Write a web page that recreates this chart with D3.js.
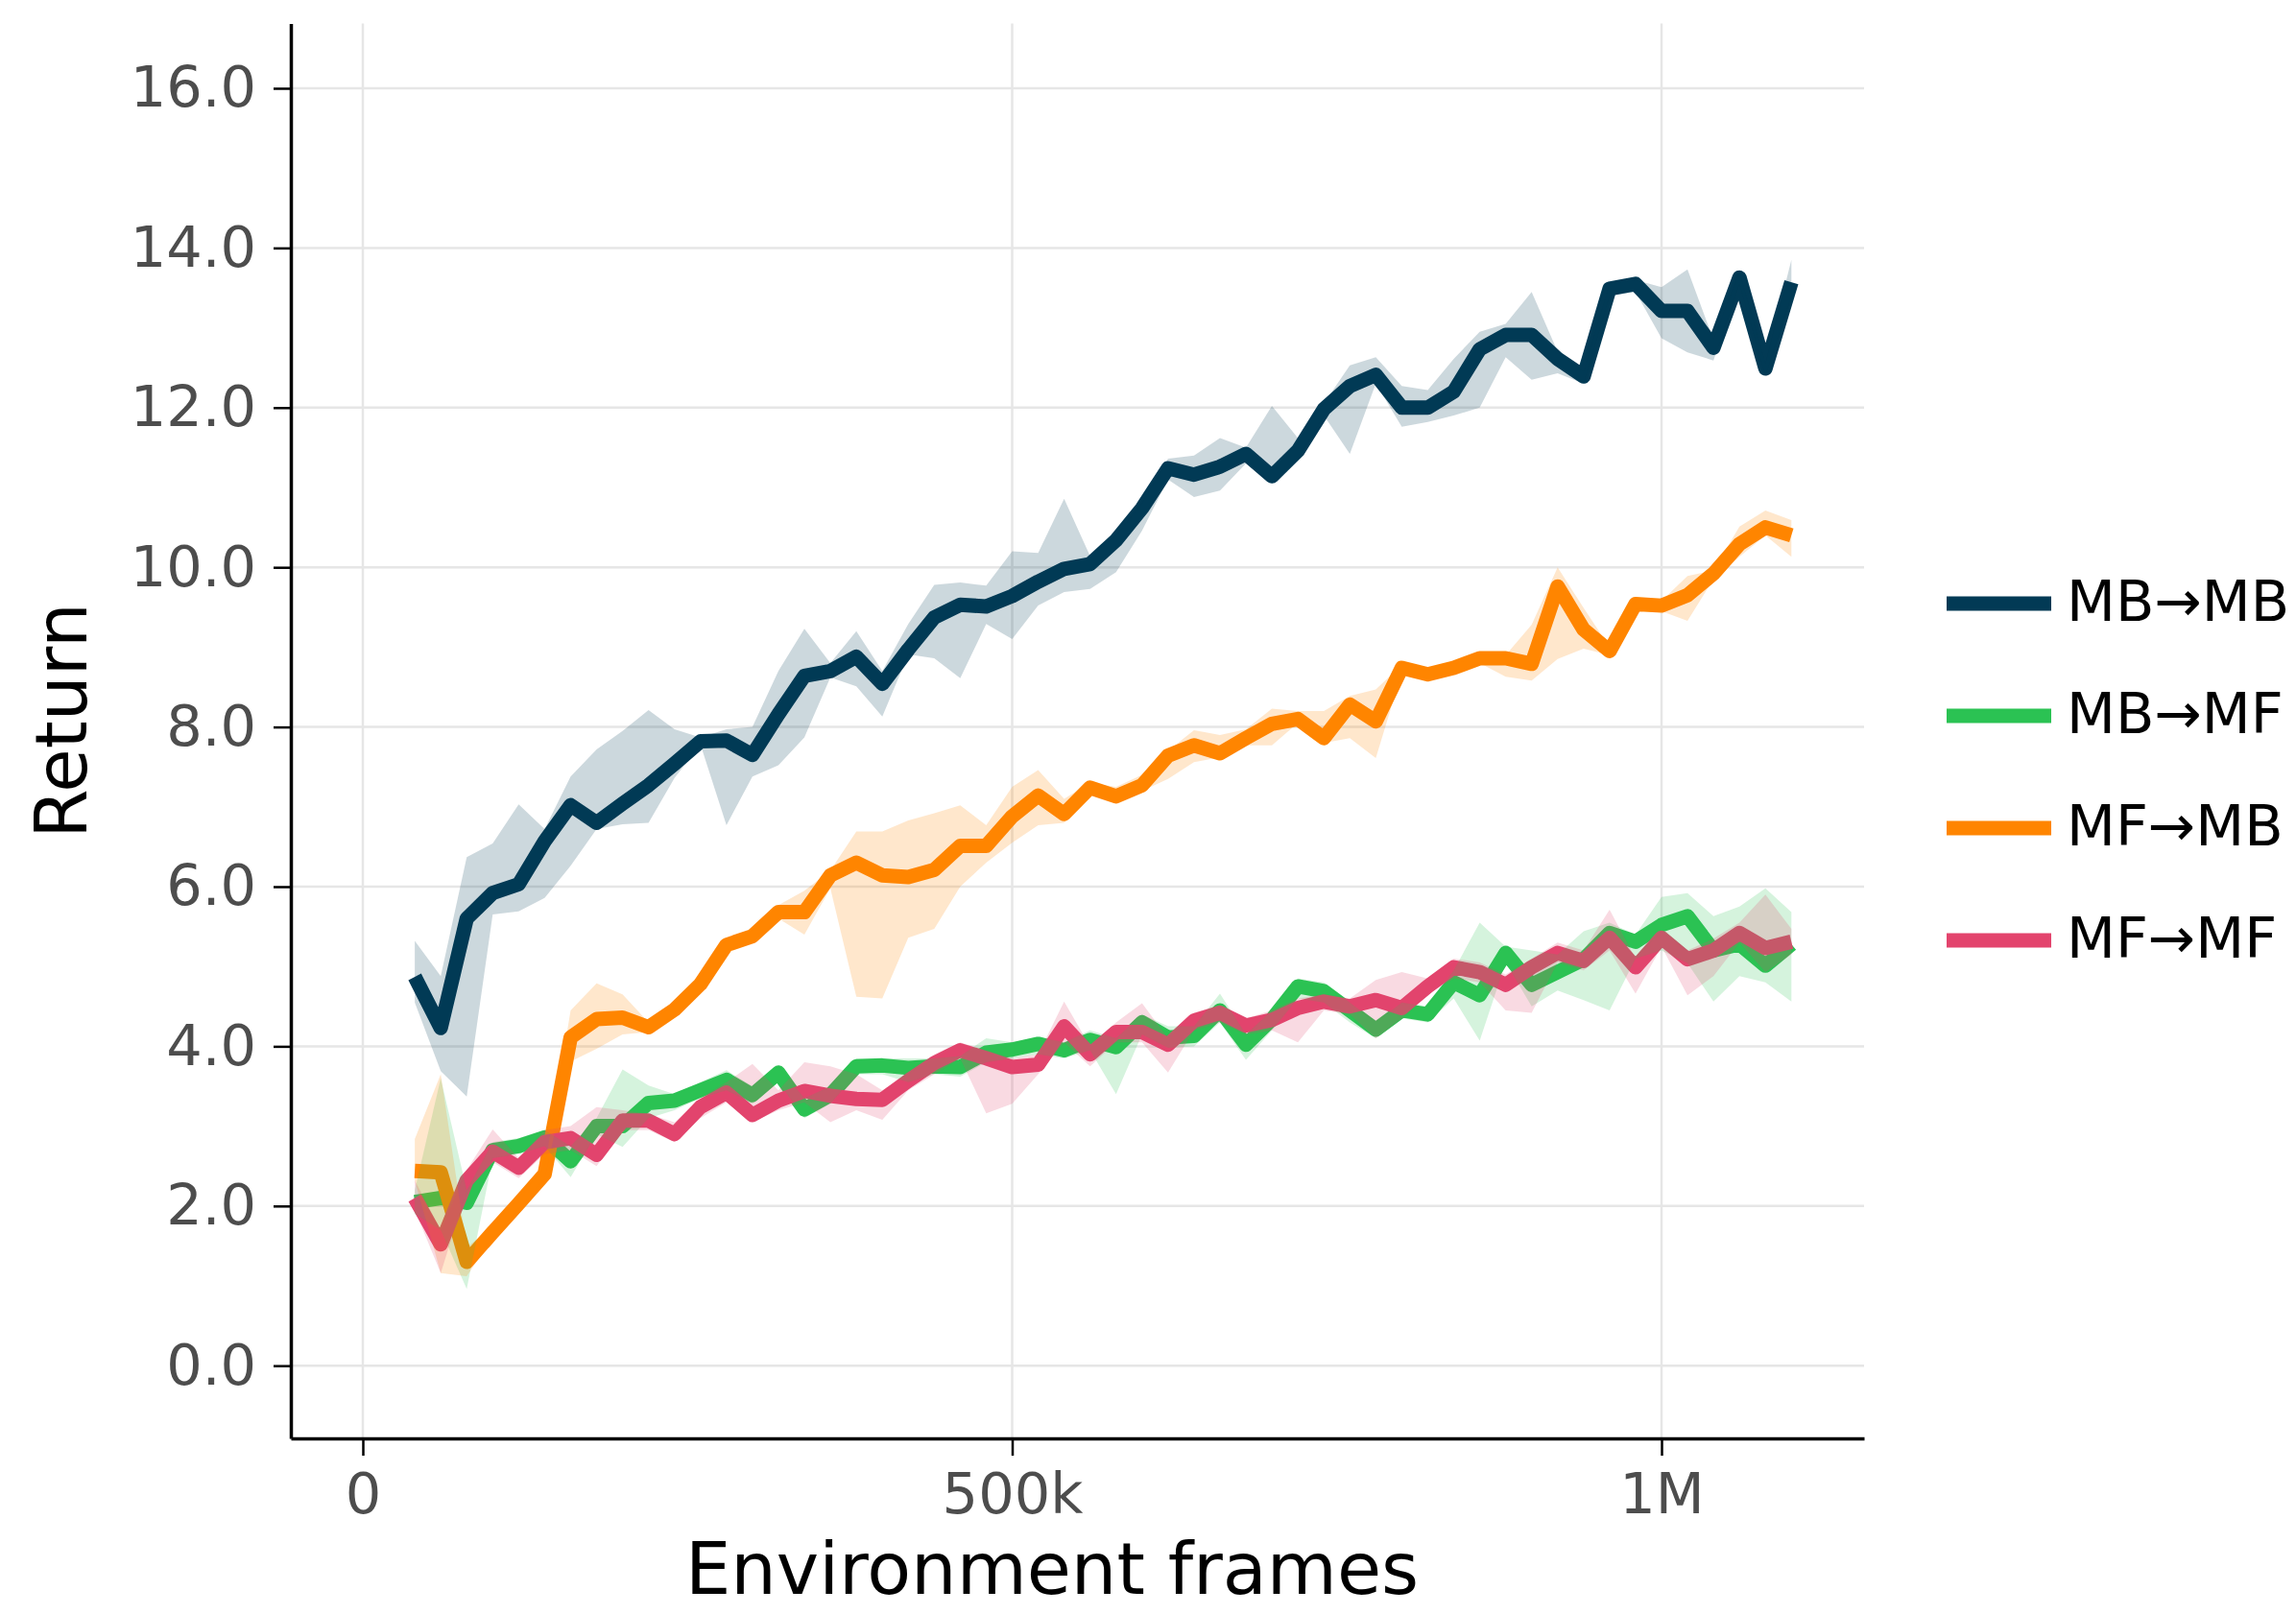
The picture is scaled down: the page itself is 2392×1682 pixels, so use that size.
<!DOCTYPE html>
<html>
<head>
<meta charset="utf-8">
<script src="https://cdn.jsdelivr.net/npm/d3@7"></script>
<style>
  html, body { margin: 0; padding: 0; background: #ffffff; }
  svg { display: block; }
</style>
</head>
<body>
<svg id="chart" width="2392" height="1682"></svg>
<script>
// Environment frames (thousands) at which returns were evaluated
const framesK = [40, 60, 80, 100, 120, 140, 160, 180, 200, 220, 240, 260, 280, 300, 320, 340, 360, 380,
  400, 420, 440, 460, 480, 500, 520, 540, 560, 580, 600, 620, 640, 660, 680, 700, 720, 740,
  760, 780, 800, 820, 840, 860, 880, 900, 920, 940, 960, 980, 1000, 1020, 1040, 1060, 1080, 1100];

const seriesNames = ["MB\u2192MB", "MB\u2192MF", "MF\u2192MB", "MF\u2192MF"];
const seriesColors = ["#023a55", "#2bc253", "#ff8500", "#e3446d"];

// MB→MB
const mbmbMean = [4.87, 4.23, 5.60, 5.92, 6.03, 6.57, 7.02, 6.80, 7.04, 7.27, 7.54, 7.82, 7.83, 7.65, 8.16, 8.64, 8.70, 8.88,
  8.54, 8.97, 9.37, 9.53, 9.51, 9.64, 9.82, 9.98, 10.04, 10.34, 10.74, 11.24, 11.16, 11.26, 11.42, 11.14, 11.46, 11.98,
  12.27, 12.41, 12.00, 12.00, 12.20, 12.73, 12.91, 12.91, 12.61, 12.39, 13.49, 13.55, 13.21, 13.21, 12.75, 13.63, 12.49, 13.57];
const mbmbHigh = [5.32, 4.88, 6.37, 6.54, 7.03, 6.72, 7.38, 7.72, 7.95, 8.21, 7.97, 7.87, 7.97, 8.00, 8.70, 9.23, 8.80, 9.20,
  8.70, 9.29, 9.78, 9.81, 9.77, 10.20, 10.18, 10.86, 10.14, 10.40, 10.80, 11.36, 11.40, 11.62, 11.50, 12.02, 11.62, 12.05,
  12.53, 12.63, 12.27, 12.22, 12.61, 12.95, 13.05, 13.45, 12.70, 12.45, 13.55, 13.60, 13.51, 13.73, 12.85, 13.70, 12.55, 13.85];
const mbmbLow = [4.55, 3.69, 3.37, 5.65, 5.69, 5.86, 6.26, 6.72, 6.78, 6.80, 7.36, 7.78, 6.77, 7.38, 7.52, 7.87, 8.62, 8.51,
  8.13, 8.91, 8.86, 8.61, 9.29, 9.10, 9.52, 9.69, 9.73, 9.94, 10.46, 11.10, 10.88, 10.96, 11.30, 11.05, 11.35, 11.90,
  11.42, 12.30, 11.76, 11.82, 11.90, 12.00, 12.63, 12.35, 12.43, 12.30, 13.40, 13.45, 12.87, 12.69, 12.59, 13.55, 12.40, 13.40];

// MB→MF
const mbmfMean = [2.05, 2.10, 2.04, 2.70, 2.75, 2.86, 2.56, 3.00, 3.00, 3.29, 3.32, 3.45, 3.58, 3.39, 3.67, 3.21, 3.39, 3.75,
  3.76, 3.73, 3.75, 3.74, 3.92, 3.96, 4.03, 3.95, 4.08, 3.99, 4.30, 4.11, 4.13, 4.45, 4.02, 4.34, 4.75, 4.69,
  4.45, 4.21, 4.45, 4.40, 4.80, 4.64, 5.17, 4.77, 4.93, 5.09, 5.42, 5.31, 5.52, 5.63, 5.20, 5.28, 5.01, 5.28];
const mbmfHigh = [2.20, 3.60, 2.20, 2.80, 2.85, 2.95, 2.75, 3.10, 3.71, 3.51, 3.40, 3.55, 3.70, 3.50, 3.75, 3.35, 3.50, 3.85,
  3.85, 3.85, 3.85, 3.88, 4.10, 4.05, 4.12, 4.05, 4.20, 4.10, 4.40, 4.25, 4.25, 4.66, 4.15, 4.45, 4.85, 4.80,
  4.55, 4.30, 4.55, 4.50, 4.95, 5.55, 5.25, 5.20, 5.15, 5.44, 5.55, 5.40, 5.87, 5.92, 5.63, 5.75, 5.98, 5.68];
const mbmfLow = [1.90, 1.70, 0.96, 2.60, 2.65, 2.75, 2.36, 2.90, 2.74, 3.10, 3.20, 3.35, 3.45, 3.28, 3.55, 3.10, 3.28, 3.65,
  3.65, 3.55, 3.65, 3.62, 3.80, 3.85, 3.90, 3.85, 3.95, 3.40, 4.15, 3.98, 4.00, 4.30, 3.83, 4.20, 4.60, 4.55,
  4.30, 4.10, 4.35, 4.30, 4.60, 4.07, 5.05, 4.50, 4.70, 4.58, 4.45, 5.10, 5.20, 5.04, 4.56, 4.88, 4.80, 4.56];

// MF→MB
const mfmbMean = [2.44, 2.42, 1.30, 1.67, 2.03, 2.40, 4.11, 4.34, 4.36, 4.24, 4.46, 4.78, 5.27, 5.38, 5.68, 5.68, 6.14, 6.30,
  6.14, 6.12, 6.21, 6.51, 6.51, 6.88, 7.14, 6.91, 7.24, 7.13, 7.27, 7.64, 7.77, 7.67, 7.86, 8.04, 8.10, 7.86,
  8.28, 8.07, 8.74, 8.66, 8.74, 8.86, 8.86, 8.79, 9.76, 9.22, 8.95, 9.54, 9.52, 9.65, 9.92, 10.29, 10.50, 10.40];
const mfmbHigh = [2.84, 3.65, 1.48, 1.75, 2.10, 2.48, 4.45, 4.79, 4.65, 4.30, 4.52, 4.85, 5.35, 5.45, 5.77, 5.95, 6.20, 6.69,
  6.69, 6.83, 6.92, 7.02, 6.77, 7.25, 7.46, 7.10, 7.30, 7.25, 7.40, 7.70, 7.96, 7.90, 7.97, 8.23, 8.20, 8.20,
  8.39, 8.47, 8.78, 8.70, 8.78, 8.90, 8.90, 9.28, 10.00, 9.49, 9.00, 9.58, 9.58, 9.89, 9.96, 10.51, 10.71, 10.59];
const mfmbLow = [2.32, 1.16, 1.12, 1.60, 1.97, 2.35, 3.81, 3.97, 4.15, 4.18, 4.40, 4.70, 5.20, 5.30, 5.60, 5.40, 5.98, 4.62,
  4.60, 5.36, 5.47, 6.00, 6.30, 6.55, 6.77, 6.80, 7.15, 7.05, 7.20, 7.35, 7.56, 7.62, 7.77, 7.77, 8.05, 7.80,
  7.86, 7.61, 8.68, 8.60, 8.68, 8.80, 8.63, 8.58, 8.85, 8.98, 8.90, 9.48, 9.45, 9.33, 9.85, 10.13, 10.40, 10.13];

// MF→MF
const mfmfMean = [2.10, 1.52, 2.32, 2.68, 2.48, 2.80, 2.85, 2.64, 3.07, 3.07, 2.90, 3.24, 3.42, 3.14, 3.32, 3.44, 3.38, 3.34,
  3.33, 3.57, 3.79, 3.95, 3.85, 3.74, 3.77, 4.25, 3.90, 4.18, 4.18, 4.02, 4.32, 4.42, 4.26, 4.33, 4.48, 4.56,
  4.50, 4.58, 4.48, 4.75, 4.99, 4.93, 4.77, 4.99, 5.17, 5.07, 5.36, 4.99, 5.36, 5.09, 5.20, 5.42, 5.23, 5.31];
const mfmfHigh = [2.32, 1.70, 2.45, 2.96, 2.60, 2.95, 3.00, 3.24, 3.20, 3.15, 3.05, 3.35, 3.55, 3.78, 3.45, 3.80, 3.75, 3.65,
  3.45, 3.65, 3.90, 4.05, 3.95, 3.85, 3.90, 4.56, 4.00, 4.30, 4.54, 4.10, 4.42, 4.52, 4.35, 4.45, 4.60, 4.65,
  4.60, 4.83, 4.93, 4.85, 5.10, 5.05, 4.90, 5.10, 5.30, 5.20, 5.71, 5.10, 5.45, 5.20, 5.35, 5.55, 5.90, 5.47];
const mfmfLow = [1.95, 1.16, 2.20, 2.55, 2.35, 2.65, 2.70, 2.50, 2.95, 2.95, 2.80, 3.10, 3.30, 3.05, 3.20, 3.30, 3.05, 3.20,
  3.08, 3.45, 3.65, 3.85, 3.16, 3.28, 3.65, 4.05, 3.75, 4.05, 4.05, 3.67, 4.20, 4.30, 4.15, 4.20, 4.05, 4.45,
  4.40, 4.10, 4.35, 4.65, 4.85, 4.80, 4.45, 4.42, 5.05, 4.95, 5.20, 4.66, 5.25, 4.64, 4.88, 5.30, 4.93, 5.15];

const yTicks = [0, 2, 4, 6, 8, 10, 12, 14, 16];
const xTicks = [0, 500000, 1000000];
const xTickLabels = ["0", "500k", "1M"];

const means = [mbmbMean, mbmfMean, mfmbMean, mfmfMean];
const lows = [mbmbLow, mbmfLow, mfmbLow, mfmfLow];
const highs = [mbmbHigh, mbmfHigh, mfmbHigh, mfmfHigh];

const series = seriesNames.map((name, s) => ({
  name,
  color: seriesColors[s],
  points: framesK.map((f, i) => ({ f: f * 1000, v: means[s][i], lo: lows[s][i], hi: highs[s][i] }))
}));

const FONT = "'DejaVu Sans', 'Noto Sans', sans-serif";
const svg = d3.select("#chart");
svg.append("rect").attr("width", 2392).attr("height", 1682).attr("fill", "#ffffff");

const plotLeft = 303, plotRight = 1942, plotTop = 24.5, plotBottom = 1499;
const x = d3.scaleLinear().domain([-55430, 1155950]).range([plotLeft, plotRight]);
const y = d3.scaleLinear().domain([-0.911, 16.811]).range([plotBottom, plotTop]);

// Grid
const grid = svg.append("g").attr("class", "grid");
grid.selectAll("line.h").data(yTicks).join("line")
  .attr("x1", plotLeft).attr("x2", plotRight)
  .attr("y1", d => y(d)).attr("y2", d => y(d))
  .attr("stroke", "#e6e6e6").attr("stroke-width", 2.5);
grid.selectAll("line.v").data(xTicks).join("line")
  .attr("x1", d => x(d)).attr("x2", d => x(d))
  .attr("y1", plotTop).attr("y2", plotBottom)
  .attr("stroke", "#e6e6e6").attr("stroke-width", 2.5);

// Mean lines underneath, translucent spread bands on top
const line = d3.line().x(d => x(d.f)).y(d => y(d.v));
const area = d3.area().x(d => x(d.f)).y0(d => y(d.lo)).y1(d => y(d.hi));

svg.append("g").selectAll("path").data(series).join("path")
  .attr("d", d => line(d.points))
  .attr("fill", "none")
  .attr("stroke", d => d.color)
  .attr("stroke-width", 15)
  .attr("stroke-linejoin", "round")
  .attr("stroke-linecap", "butt");

svg.append("g").selectAll("path").data(series).join("path")
  .attr("d", d => area(d.points))
  .attr("fill", d => d.color)
  .attr("fill-opacity", 0.2)
  .attr("stroke", "none");

// Axes
const yAxis = d3.axisLeft(y).tickValues(yTicks).tickFormat(d3.format(".1f"))
  .tickSize(18).tickSizeOuter(0).tickPadding(18);
const xAxis = d3.axisBottom(x).tickValues(xTicks).tickFormat((d, i) => xTickLabels[i])
  .tickSize(18).tickSizeOuter(0).tickPadding(18);

const gy = svg.append("g").attr("transform", `translate(${plotLeft},0)`).call(yAxis);
const gx = svg.append("g").attr("transform", `translate(0,${plotBottom})`).call(xAxis);
[gy, gx].forEach(g => {
  g.select(".domain").attr("stroke", "#000").attr("stroke-width", 3.5);
  g.selectAll(".tick line").attr("stroke", "#000").attr("stroke-width", 2.5);
  g.selectAll(".tick text").attr("fill", "#4d4d4d")
    .style("font-family", FONT).style("font-size", "59px");
});

// Axis titles
svg.append("text")
  .attr("x", 1096).attr("y", 1661)
  .attr("text-anchor", "middle")
  .style("font-family", FONT).style("font-size", "75px").attr("fill", "#000")
  .text("Environment frames");
svg.append("text")
  .attr("transform", "translate(90,751) rotate(-90)")
  .attr("text-anchor", "middle")
  .style("font-family", FONT).style("font-size", "74px").attr("fill", "#000")
  .text("Return");

// Legend
const legendY = [629, 746, 863, 980];
const legend = svg.append("g").selectAll("g").data(series).join("g")
  .attr("transform", (d, i) => `translate(0,${legendY[i]})`);
legend.append("line")
  .attr("x1", 2028).attr("x2", 2137).attr("y1", 0).attr("y2", 0)
  .attr("stroke", d => d.color).attr("stroke-width", 15);
legend.append("text")
  .attr("x", 2153).attr("y", 18)
  .style("font-family", FONT).style("font-size", "59px").attr("fill", "#000")
  .text(d => d.name);
</script>
</body>
</html>
